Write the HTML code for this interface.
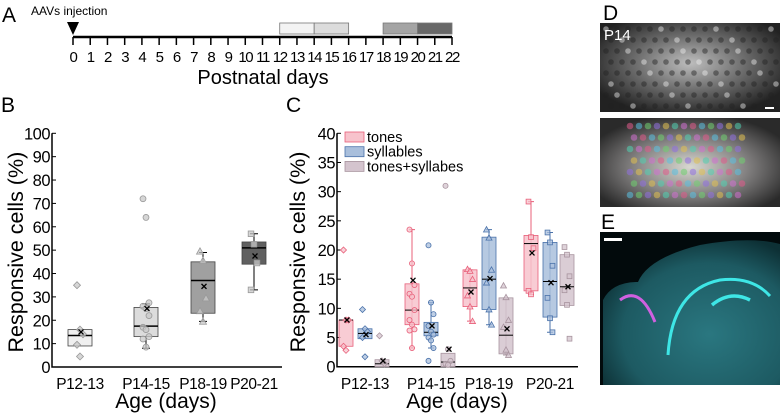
<!DOCTYPE html>
<html><head><meta charset="utf-8"><style>
html,body{margin:0;padding:0;background:#fff;width:780px;height:415px;overflow:hidden}
svg{display:block;font-family:"Liberation Sans",Arial,sans-serif}
</style></head><body>
<svg id="fig" width="780" height="415" viewBox="0 0 780 415">
<defs>
<radialGradient id="gD" cx="0.5" cy="0.45" r="0.6"><stop offset="0" stop-color="#bdbdbd"/><stop offset="0.5" stop-color="#6e6e6e"/><stop offset="1" stop-color="#222"/></radialGradient>
<radialGradient id="gD2" cx="0.5" cy="0.55" r="0.6"><stop offset="0" stop-color="#d8d8d0"/><stop offset="0.5" stop-color="#888686"/><stop offset="1" stop-color="#2a2a2a"/></radialGradient>
<radialGradient id="gE" cx="0.6" cy="0.65" r="0.7"><stop offset="0" stop-color="#2a7780"/><stop offset="0.7" stop-color="#1d5a62"/><stop offset="1" stop-color="#0d3035"/></radialGradient>
</defs>
<g id="panelA"></g>
<g id="panelB"></g>
<g id="panelC"></g>
<g id="panelDE">
<text x="603" y="20" font-size="21">D</text>
<rect x="600" y="23" width="180" height="89" fill="url(#gD)"/>
<g id="cellsD"></g>
<text x="604" y="40" font-size="15" fill="#fff">P14</text>
<rect x="765" y="107" width="9" height="2" fill="#fff"/>
<rect x="600" y="118" width="180" height="89" fill="url(#gD2)"/>
<g id="rois"></g>
<text x="601" y="229" font-size="21">E</text>
<rect x="600" y="232" width="180" height="153" fill="#020a0c"/>
<path d="M603 385 L603 300 Q612 282 638 282 Q648 258 700 245 Q750 236 780 244 L780 385 Z" fill="url(#gE)"/>
<path d="M668 355 Q672 290 720 280 Q752 276 770 296" stroke="#3ee6e6" stroke-width="3" fill="none"/>
<path d="M712 305 Q730 290 750 300" stroke="#3ee6e6" stroke-width="3.5" fill="none"/>
<path d="M620 300 Q640 285 655 322" stroke="#d060e0" stroke-width="3" fill="none"/>
<rect x="604" y="238" width="18" height="3" fill="#fff"/>
</g>
</svg>
<script>
// ---------- Panel B data ----------
const bCats = ["P12-13","P14-15","P18-19","P20-21"];
const bQ1 = [9, 13, 23, 44];
const bQ3 = [16, 25.5, 45, 53.5];
const bMed = [13.5, 17.5, 37, 51];
const bMean = [15, 25, 34.5, 47.5];
const bWLo = [null, 8, 19.5, 33];
const bWHi = [null, 27, 49, 57];
const bPts0 = [35, 16, 14, 9.5, 4.5];
const bPts1 = [72, 64, 27.5, 26, 25, 22, 17, 16, 13, 12, 8.5];
const bPts2 = [49.5, 45.5, 29.5, 24, 19.5];
const bPts3 = [57, 52.5, 44.5, 33];
const bYTicks = [0,10,20,30,40,50,60,70,80,90,100];

// ---------- Panel C data ----------
const cCats = ["P12-13","P14-15","P18-19","P20-21"];
const cSeries = ["tones","syllables","tones+syllabes"];
const cQ1 = [[3.5,4.8,0],[7.2,5.3,0],[10.3,9.8,2.2],[13,8.5,10.5]];
const cQ3 = [[8,6.5,1.2],[14.2,7.6,2.3],[16.6,22.2,11.8],[22.5,21.3,19.2]];
const cMed = [[8,5.7,0.5],[9.7,5.9,0.8],[13.5,15,5.4],[21.1,14.6,13.7]];
const cMean = [[8,5.5,1],[14.8,7,3],[12.8,15.1,6.5],[19.5,14.4,13.7]];
const cWLo = [[null,null,null],[3.2,3.2,null],[7.8,7.2,2],[12.4,5.9,null]];
const cWHi = [[null,null,null],[23.5,11,null],[16.6,23.5,11.8],[28.3,23,null]];
const cPts = [
 [[20,8,8,3.5,2.8],[9.8,6.5,6,5,1.7],[5.3,1,0.5]],
 [[23.5,17.7,14,12.5,12,9.7,8,7.2,6.4,6.2,3.2],[20.8,11,9,7,6,5.5,5,4.5,3.2,1],[31,3,1,0.5,0.3]],
 [[16.7,16.4,15,12.2,10.3,7.8],[23.5,22.1,16.6,14.4,9.8,7.2],[13.9,11.9,8,6.8,2.9,2]],
 [[28.3,22.2,20.3,13,12.4],[23,21.3,17.3,11.8,8.3,5.9],[20.5,19.2,15.5,13.1,10.6,4.8]]
];
const cYTicks = [0,5,10,15,20,25,30,35,40];

// ---------- Panel A data ----------
const aDays = [0,1,2,3,4,5,6,7,8,9,10,11,12,13,14,15,16,17,18,19,20,21,22];
const aBarStart = [12,14,18,20];
const aBarEnd = [14,16,20,22];

const NS="http://www.w3.org/2000/svg";
function mk(parent,tag,attrs,text){const e=document.createElementNS(NS,tag);for(const k in attrs)e.setAttribute(k,attrs[k]);if(text!==undefined)e.textContent=text;parent.appendChild(e);return e;}

// ---------- Panel A ----------
(function(){
 const g=document.getElementById('panelA');
 const ax=d=>73+d*(452-73)/22;
 let t=mk(g,'text',{x:2,y:22,'font-size':21},'A');
 
 
 const fills=['#f3f3f3','#dcdcdc','#a4a4a4','#686868'];
 aBarStart.forEach((s,i)=>{
  const r=mk(g,'rect',{x:ax(s),y:23,width:ax(aBarEnd[i])-ax(s),height:11,fill:fills[i],stroke:'#777','stroke-width':0.8});
  
  
 });
 const l=mk(g,'line',{x1:ax(0),x2:ax(22),y1:37,y2:37,stroke:'#000','stroke-width':2.5});
 
 
 aDays.forEach(d=>{
  const tk=mk(g,'line',{x1:ax(d),x2:ax(d),y1:37,y2:45,stroke:'#000','stroke-width':1.5});
  
  
  const tl=mk(g,'text',{x:ax(d),y:62,'font-size':15,'text-anchor':'middle','letter-spacing':'-1.4'},String(d));
  
  
 });
 const ar=mk(g,'path',{d:`M${ax(0)-6} 22 L${ax(0)+6} 22 L${ax(0)} 35 Z`,fill:'#000'});
 
 
 t=mk(g,'text',{x:31,y:15,'font-size':12},'AAVs injection');
 
 
 t=mk(g,'text',{x:263,y:84,'font-size':20,'text-anchor':'middle'},'Postnatal days');
 
 
})();

function marker(g,shape,x,y,fill,stroke,s){
 let e;
 if(shape==='diamond') e=mk(g,'path',{d:`M${x} ${y-s} L${x+s} ${y} L${x} ${y+s} L${x-s} ${y} Z`});
 else if(shape==='circle') e=mk(g,'circle',{cx:x,cy:y,r:s*0.85});
 else if(shape==='triangle') e=mk(g,'path',{d:`M${x} ${y-s} L${x+s} ${y+s*0.8} L${x-s} ${y+s*0.8} Z`});
 else e=mk(g,'rect',{x:x-s*0.8,y:y-s*0.8,width:s*1.6,height:s*1.6});
 e.setAttribute('fill',fill);e.setAttribute('stroke',stroke);e.setAttribute('stroke-width',0.8);e.setAttribute('fill-opacity',0.75);
 return e;
}
function cross(g,x,y){
 const p=mk(g,'path',{d:`M${x-2.5} ${y-2.5} L${x+2.5} ${y+2.5} M${x+2.5} ${y-2.5} L${x-2.5} ${y+2.5}`,stroke:'#000','stroke-width':1.3});
 
 
}
const shapes=['diamond','circle','triangle','square'];

// ---------- Panel B ----------
(function(){
 const g=document.getElementById('panelB');
 const y0=367,y1=133.3,x0=52,x1=282;
 const Y=v=>y0+(y1-y0)*v/100;
 const X=i=>[80,146,203,254][i];
 let t=mk(g,'text',{x:1,y:112,'font-size':21},'B');
 
 
 let a=mk(g,'path',{d:`M${x0} ${y1} L${x0} ${y0} L${x1} ${y0}`,stroke:'#000','stroke-width':1.5,fill:'none'});
 
 
 bYTicks.forEach(v=>{
  const tk=mk(g,'line',{x1:x0,x2:x0+4,y1:Y(v),y2:Y(v),stroke:'#000','stroke-width':1});
  
  
  const tl=mk(g,'text',{x:x0-2,y:Y(v)+6,'font-size':16.5,'text-anchor':'end','letter-spacing':'-0.5'},String(v));
  
  
 });
 bCats.forEach((c,i)=>{
  const tl=mk(g,'text',{x:X(i),y:389,'font-size':15.5,'text-anchor':'middle','letter-spacing':'-0.4'},c);
  
  
 });
 t=mk(g,'text',{x:166,y:408,'font-size':21,'text-anchor':'middle'},'Age (days)');
 
 
 t=mk(g,'text',{x:0,y:0,'font-size':21.5,'text-anchor':'middle',transform:`translate(23,${(y0+y1)/2+2}) rotate(-90)`},'Responsive cells (%)');
 
 
 const fills=['#f0f0f0','#dcdcdc','#a0a0a0','#606060'];
 const pts=[bPts0,bPts1,bPts2,bPts3];
 bCats.forEach((c,i)=>{
  const x=X(i),w=24;
  if(bWLo[i]!==null){
   const wl=mk(g,'path',{d:`M${x} ${Y(bWLo[i])} L${x} ${Y(bWHi[i])} M${x-4} ${Y(bWLo[i])} L${x+4} ${Y(bWLo[i])} M${x-4} ${Y(bWHi[i])} L${x+4} ${Y(bWHi[i])}`,stroke:'#000','stroke-width':1});
   
   
  }
  const b=mk(g,'rect',{x:x-w/2,y:Y(bQ3[i]),width:w,height:Y(bQ1[i])-Y(bQ3[i]),fill:fills[i],stroke:'#444','stroke-width':0.8});
  
  
  const m=mk(g,'line',{x1:x-w/2,x2:x+w/2,y1:Y(bMed[i]),y2:Y(bMed[i]),stroke:'#000','stroke-width':1.5});
  
  
  pts[i].forEach((v,j)=>{
   const dx=((j%3)-1)*3;
   const p=marker(g,shapes[i],x+dx,Y(v),'#c8c8c8','#999',3.5);
   
   
  });
  cross(g,x+1,Y(bMean[i]));
 });
})();

// ---------- Panel C ----------
(function(){
 const g=document.getElementById('panelC');
 const y0=366.7,y1=133.3,x0=337,x1=578;
 const Y=v=>y0+(y1-y0)*v/40;
 const X=i=>[365,431,489,550][i];
 const off=[-19,0,17];
 const fills=['#f7c3cc','#a9bfdc','#d4c4ce'];
 const strokes=['#e8607a','#4a72aa','#a8949f'];
 let t=mk(g,'text',{x:286,y:112,'font-size':21},'C');
 
 
 let a=mk(g,'path',{d:`M${x0} ${y1} L${x0} ${y0} L${x1} ${y0}`,stroke:'#000','stroke-width':1.5,fill:'none'});
 
 
 cYTicks.forEach(v=>{
  const tk=mk(g,'line',{x1:x0,x2:x0+4,y1:Y(v),y2:Y(v),stroke:'#000','stroke-width':1});
  
  
  const tl=mk(g,'text',{x:x0-2,y:Y(v)+6,'font-size':16.5,'text-anchor':'end','letter-spacing':'-0.5'},String(v));
  
  
 });
 cCats.forEach((c,i)=>{
  const tl=mk(g,'text',{x:X(i),y:389,'font-size':15.5,'text-anchor':'middle','letter-spacing':'-0.3'},c);
  
  
 });
 t=mk(g,'text',{x:457,y:408,'font-size':21,'text-anchor':'middle'},'Age (days)');
 
 
 t=mk(g,'text',{x:0,y:0,'font-size':21.5,'text-anchor':'middle',transform:`translate(305,${(y0+y1)/2+2}) rotate(-90)`},'Responsive cells (%)');
 
 
 cSeries.forEach((s,k)=>{
  const ly=137+k*14.7;
  const r=mk(g,'rect',{x:345,y:ly-5,width:19,height:10,fill:fills[k],stroke:strokes[k],'stroke-width':0.8});
  
  
  const lt=mk(g,'text',{x:367,y:ly+5,'font-size':14.5},s);
  
  
 });
 cCats.forEach((c,i)=>{
  cSeries.forEach((s,k)=>{
   const x=X(i)+off[k],w=14;
   if(cWLo[i][k]!==null){
    const wl=mk(g,'path',{d:`M${x} ${Y(cWLo[i][k])} L${x} ${Y(cWHi[i][k])} M${x-3} ${Y(cWLo[i][k])} L${x+3} ${Y(cWLo[i][k])} M${x-3} ${Y(cWHi[i][k])} L${x+3} ${Y(cWHi[i][k])}`,stroke:strokes[k],'stroke-width':1});
    
    
   }
   const b=mk(g,'rect',{x:x-w/2,y:Y(cQ3[i][k]),width:w,height:Math.max(0.5,Y(cQ1[i][k])-Y(cQ3[i][k])),fill:fills[k],'fill-opacity':0.85,stroke:strokes[k],'stroke-width':0.8});
   
   
   const m=mk(g,'line',{x1:x-w/2,x2:x+w/2,y1:Y(cMed[i][k]),y2:Y(cMed[i][k]),stroke:'#000','stroke-width':1});
   
   
   cPts[i][k].forEach((v,j)=>{
    const dx=((j%3)-1)*2.5;
    const p=marker(g,shapes[i],x+dx,Y(v),fills[k],strokes[k],3);
    
    
   });
   cross(g,x+1,Y(cMean[i][k]));
  });
 });
})();

// ---------- Image texture (decorative) ----------
(function(){
 const g=document.getElementById('cellsD');
 for(let r=0;r<8;r++)for(let c=0;c<16;c++){
  const x=606+c*11+(r%2)*5, y=29+r*11;
  const e=mk(g,'circle',{cx:x,cy:y,r:2.8,fill:((r*7+c*3)%5===0)?'#f0f0f0':'#222','fill-opacity':0.45});
  
  
 }
 const g2=document.getElementById('rois');
 const cols=['#e05a8a','#5ac0e0','#70d070','#9070e0','#e0c050','#50d0b0','#d070d0'];
 let n=0;
 for(let r=0;r<7;r++)for(let c=0;c<13;c++){
  const x=630+c*9+(r%2)*4, y=126+r*11.5;
  if(Math.abs(x-690)>60+ (r%3)*5) continue;
  const e=mk(g2,'circle',{cx:x,cy:y,r:3.3,fill:cols[(n++)%cols.length],'fill-opacity':0.55});
  
  
 }
})();
</script>
</body></html>
